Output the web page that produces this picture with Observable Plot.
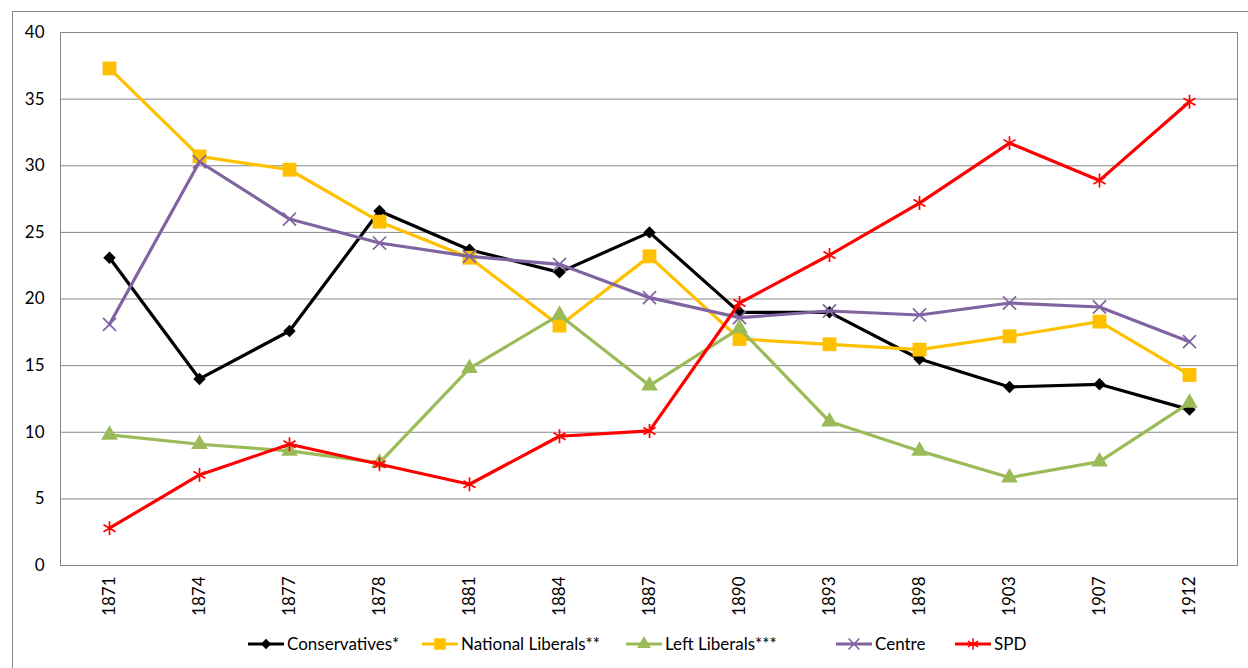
<!DOCTYPE html>
<html>
<head>
<meta charset="utf-8">
<script src="https://cdn.jsdelivr.net/npm/d3@7"></script>
<script src="https://cdn.jsdelivr.net/npm/@observablehq/plot@0.6"></script>
<style>
  html, body { margin: 0; padding: 0; background: #fff; overflow: hidden; }
  #chart { position: relative; width: 1248px; height: 668px; }
  #border { position: absolute; left: 12px; top: 11px; width: 1300px; height: 700px;
            border: 1px solid #868686; box-sizing: border-box; pointer-events: none; }
  #plot svg text { font-size: 17px; }
  #legend { position: absolute; left: 0; top: 633px; width: 1248px; height: 20px;
            font-family: Lato, "Open Sans", sans-serif; font-size: 17px; color: #000; }
  .item { position: absolute; top: 0; display: flex; align-items: center; gap: 2px; white-space: nowrap; }
  .item svg { display: block; }
</style>
</head>
<body>
<div id="chart">
  <div id="border"></div>
  <div id="plot"></div>
  <div id="legend"></div>
</div>
<script>
// Reichstag election results, share of the vote (%)
const years = ["1871", "1874", "1877", "1878", "1881", "1884", "1887", "1890", "1893", "1898", "1903", "1907", "1912"];
const conservatives   = [23.1, 14.0, 17.6, 26.6, 23.7, 22.0, 25.0, 19.0, 19.0, 15.5, 13.4, 13.6, 11.7];
const nationalLiberals = [37.3, 30.7, 29.7, 25.8, 23.1, 18.0, 23.2, 17.0, 16.6, 16.2, 17.2, 18.3, 14.3];
const leftLiberals    = [9.8, 9.1, 8.6, 7.7, 14.8, 18.8, 13.5, 17.8, 10.8, 8.6, 6.6, 7.8, 12.2];
const centre          = [18.1, 30.3, 26.0, 24.2, 23.2, 22.6, 20.1, 18.6, 19.1, 18.8, 19.7, 19.4, 16.8];
const spd             = [2.8, 6.8, 9.1, 7.6, 6.1, 9.7, 10.1, 19.7, 23.3, 27.2, 31.7, 28.9, 34.8];
const yTicks = [0, 5, 10, 15, 20, 25, 30, 35, 40];

const seriesNames = ["Conservatives*", "National Liberals**", "Left Liberals***", "Centre", "SPD"];
const seriesValues = [conservatives, nationalLiberals, leftLiberals, centre, spd];
const seriesStyle = [
  {color: "#000000", symbol: "diamond2", r: 5.6, filled: true},
  {color: "#FFC000", symbol: "square", r: 7.8, filled: true},
  {color: "#9BBB59", symbol: "triangle", r: 6.2, filled: true},
  {color: "#8064A2", symbol: "times", r: 6.0, filled: false},
  {color: "#FF0000", symbol: "asterisk", r: 6.6, filled: false}
];
// left edge of each legend entry
const legendLeft = [247, 421, 625, 835, 954];

const series = seriesNames.map((name, i) => ({
  name,
  ...seriesStyle[i],
  data: years.map((year, j) => ({year, value: seriesValues[i][j]}))
}));

const font = 'Lato, "Open Sans", sans-serif';

const marks = [
  Plot.ruleY(yTicks.filter(d => d > 0 && d < 40), {stroke: "#868686", strokeWidth: 1}),
  Plot.frame({stroke: "#868686"}),
  Plot.axisY({ticks: yTicks, tickSize: 0, tickPadding: 16, fontSize: 17, label: null}),
  Plot.axisX({tickRotate: -90, tickSize: 0, tickPadding: 11, fontSize: 17, label: null})
];
for (const s of series) {
  marks.push(Plot.line(s.data, {x: "year", y: "value", stroke: s.color, strokeWidth: 3.2,
                                strokeLinejoin: "round", strokeLinecap: "round"}));
  marks.push(Plot.dot(s.data, {x: "year", y: "value", symbol: () => s.symbol, r: s.r,
                               fill: s.filled ? s.color : "none", stroke: s.color,
                               strokeWidth: s.filled ? 0 : 1.7}));
}

const chart = Plot.plot({
  width: 1248,
  height: 625,
  marginLeft: 60,
  marginRight: 11,
  marginTop: 32,
  marginBottom: 60,
  style: {fontFamily: font, fontSize: "17px", color: "#000", background: "transparent"},
  x: {type: "point", domain: years, padding: 0.5},
  y: {domain: [0, 40]},
  symbol: {type: "identity"},
  marks
});
document.getElementById("plot").appendChild(chart);

// Legend below the plot
const symbolTypes = {
  diamond2: d3.symbolDiamond2, square: d3.symbolSquare, triangle: d3.symbolTriangle,
  times: d3.symbolTimes, asterisk: d3.symbolAsterisk
};
const legend = d3.select("#legend");
series.forEach((s, i) => {
  const item = legend.append("div").attr("class", "item").style("left", legendLeft[i] + "px");
  const svg = item.append("svg").attr("width", 38).attr("height", 20);
  svg.append("line").attr("x1", 1).attr("x2", 37).attr("y1", 10).attr("y2", 10)
    .attr("stroke", s.color).attr("stroke-width", 3.2);
  const size = Math.PI * s.r * s.r * 0.7;
  svg.append("path").attr("transform", "translate(19,10)")
    .attr("d", d3.symbol(symbolTypes[s.symbol], size)())
    .attr("fill", s.filled ? s.color : "none")
    .attr("stroke", s.filled ? "none" : s.color).attr("stroke-width", 1.6);
  item.append("span").text(s.name);
});
</script>
</body>
</html>
